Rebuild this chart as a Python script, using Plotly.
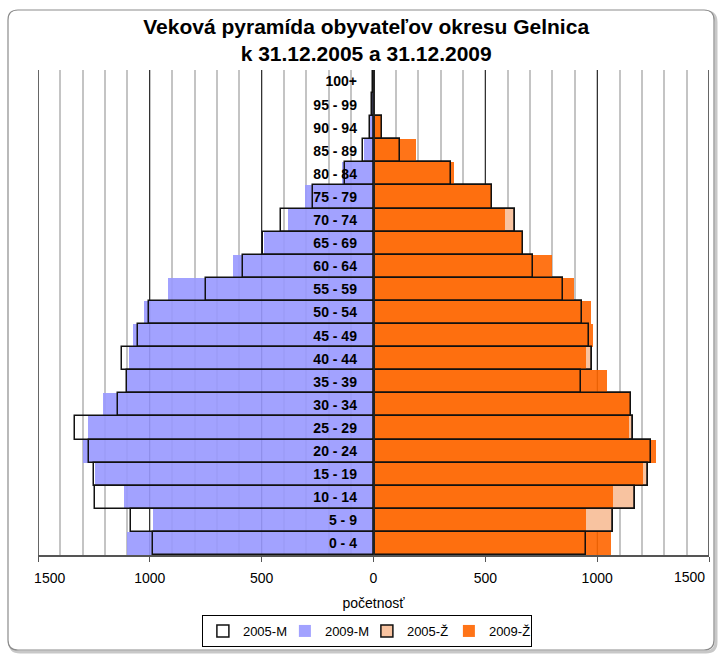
import plotly.graph_objects as go

categories = ["0 - 4", "5 - 9", "10 - 14", "15 - 19", "20 - 24", "25 - 29", "30 - 34",
              "35 - 39", "40 - 44", "45 - 49", "50 - 54", "55 - 59", "60 - 64", "65 - 69",
              "70 - 74", "75 - 79", "80 - 84", "85 - 89", "90 - 94", "95 - 99", "100+"]
m2005 = [986, 1085, 1247, 1248, 1272, 1333, 1142, 1101, 1125, 1054, 1003, 749, 583, 493, 414, 270, 127, 47, 14, 7, 1]
m2009 = [1101, 984, 1115, 1245, 1298, 1277, 1210, 1103, 1095, 1075, 1024, 917, 629, 488, 384, 308, 139, 44, 17, 5, 4]
f2005 = [950, 1070, 1168, 1229, 1239, 1162, 1153, 926, 978, 962, 932, 846, 714, 668, 634, 530, 345, 117, 38, 4, 1]
f2009 = [1063, 950, 1072, 1205, 1265, 1142, 1150, 1044, 948, 983, 972, 897, 799, 662, 589, 524, 359, 188, 39, 3, 2]
tick_vals = [-1500, -1000, -500, 0, 500, 1000, 1500]
tick_text = ["1500", "1000", "500", "0", "500", "1000", "1500"]

FONT = "Liberation Sans, Arial, sans-serif"
W, H = 718, 658
ML, MR, MT, MB = 38, 9, 70, 103
PW, PH = W - ML - MR, H - MT - MB

neg = lambda v: [-x for x in v]

# edge labels sit slightly inside the plot, as in the original
FS = "\u2007"
tick_labels = list(tick_text)
tick_labels[0] = FS * 3 + tick_labels[0]
tick_labels[-1] = ""  # drawn as an annotation aligned to the right edge

fig = go.Figure()
# 2005-Ž filled (behind)
fig.add_trace(go.Bar(y=categories, x=f2005, orientation="h", name="2005-Ž",
                     marker=dict(color="#F8C3A0", line=dict(color="#111111", width=1.5)),
                     legendrank=3))
# 2009-M
fig.add_trace(go.Bar(y=categories, x=neg(m2009), orientation="h", name="2009-M",
                     marker=dict(color="#9999FF", line=dict(width=0)), opacity=0.9,
                     legendrank=2))
# 2009-Ž
fig.add_trace(go.Bar(y=categories, x=f2009, orientation="h", name="2009-Ž",
                     marker=dict(color="#FF6600", line=dict(width=0)), opacity=0.9,
                     legendrank=4))
# 2005-M outline (on top)
fig.add_trace(go.Bar(y=categories, x=neg(m2005), orientation="h", name="2005-M",
                     marker=dict(color="rgba(255,255,255,0)", line=dict(color="#111111", width=1.5)),
                     legendrank=1))
# 2005-Ž outline on top
fig.add_trace(go.Bar(y=categories, x=f2005, orientation="h", name="2005-Ž",
                     marker=dict(color="rgba(255,255,255,0)", line=dict(color="#111111", width=1.5)),
                     showlegend=False))

# rounded outer frame in paper coords
x0 = (8 - ML) / PW
x1 = (714 - ML) / PW
y1 = 1 + (MT - 10) / PH
y0 = -(650 - (MT + PH)) / PH
rx, ry = 10 / PW, 10 / PH


def rpath(a0, b0, a1, b1):
    return (f"M {a0+rx},{b1} L {a1-rx},{b1} Q {a1},{b1} {a1},{b1-ry} "
            f"L {a1},{b0+ry} Q {a1},{b0} {a1-rx},{b0} L {a0+rx},{b0} "
            f"Q {a0},{b0} {a0},{b0+ry} L {a0},{b1-ry} Q {a0},{b1} {a0+rx},{b1} Z")


dx, dy = 2.0 / PW, 2.0 / PH
shapes = [
    dict(type="path", xref="paper", yref="paper", path=rpath(x0 + dx, y0 - dy, x1 + dx, y1 - dy),
         line=dict(color="#C8C8C8", width=3), layer="below"),
    dict(type="path", xref="paper", yref="paper", path=rpath(x0, y0, x1, y1),
         line=dict(color="#8C8C8C", width=1.2), fillcolor="white", layer="below"),
    dict(type="line", xref="x", yref="paper", x0=-1500, x1=-1500, y0=0, y1=1,
         line=dict(color="#666666", width=2)),
    dict(type="line", xref="x", yref="paper", x0=1500, x1=1500, y0=0, y1=1,
         line=dict(color="#666666", width=2)),
]

annotations = [
    dict(x=tick_vals[-1], xref="x", y=0, yref="paper", text=tick_text[-1],
         showarrow=False, xanchor="right", yanchor="middle", xshift=-2, yshift=-22,
         font=dict(family=FONT, size=14, color="black")),
]

fig.update_layout(
    width=W, height=H,
    margin=dict(l=ML, r=MR, t=MT, b=MB, autoexpand=False),
    paper_bgcolor="white",
    plot_bgcolor="#F2F2F2",
    barmode="overlay",
    bargap=0,
    font=dict(family=FONT, color="black"),
    title=dict(text="Veková pyramída obyvateľov okresu Gelnica<br>k 31.12.2005 a 31.12.2009",
               font=dict(family=FONT, size=21, weight="bold", color="black"),
               x=0.51, xanchor="center", xref="container",
               y=1 - 34 / H, yanchor="top", yref="container", automargin=False),
    shapes=shapes,
    annotations=annotations,
    showlegend=True,
    legend=dict(orientation="h", xref="container", yref="container",
                x=0.511, xanchor="center", y=1 - 631 / H, yanchor="middle",
                bordercolor="black", borderwidth=1, bgcolor="white",
                font=dict(family=FONT, size=13, color="black"),
                itemwidth=30, entrywidth=37, entrywidthmode="pixels",
                traceorder="normal"),
    xaxis=dict(range=[-1500, 1500], tickmode="array", tickvals=tick_vals, ticktext=tick_labels,
               automargin=False, ticklabeloverflow="allow",
               showgrid=True, gridcolor="#333333", gridwidth=1,
               zeroline=False,
               minor=dict(tickmode="array", tickvals=list(range(-1500, 1501, 100)),
                          showgrid=True, gridcolor="#C4C4C4", gridwidth=1.5, ticks=""),
               ticks="outside", ticklen=5, tickcolor="#555555", tickwidth=1,
               showline=True, linecolor="#555555", linewidth=1.5,
               tickfont=dict(family=FONT, size=14, color="black"),
               ticklabelstandoff=4,
               title=dict(text="početnosť", font=dict(family=FONT, size=14, color="black"),
                          standoff=14),
               fixedrange=True),
    yaxis=dict(type="category", categoryorder="array", categoryarray=categories,
               anchor="free", position=0.5, side="left", automargin=False,
               showgrid=False, zeroline=False,
               showline=True, linecolor="#222222", linewidth=1.5,
               ticks="", ticklabelstandoff=13,
               tickfont=dict(family=FONT, size=14, weight="bold", color="black"),
               fixedrange=True),
)

# let the figure fill the window exactly (no default page margin, no scrollbars)
page_fix = ("document.body.style.margin='0';"
            "document.body.style.overflow='hidden';"
            "document.documentElement.style.overflow='hidden';")
fig.write_html("out.html", post_script=page_fix, config={"displayModeBar": False})
